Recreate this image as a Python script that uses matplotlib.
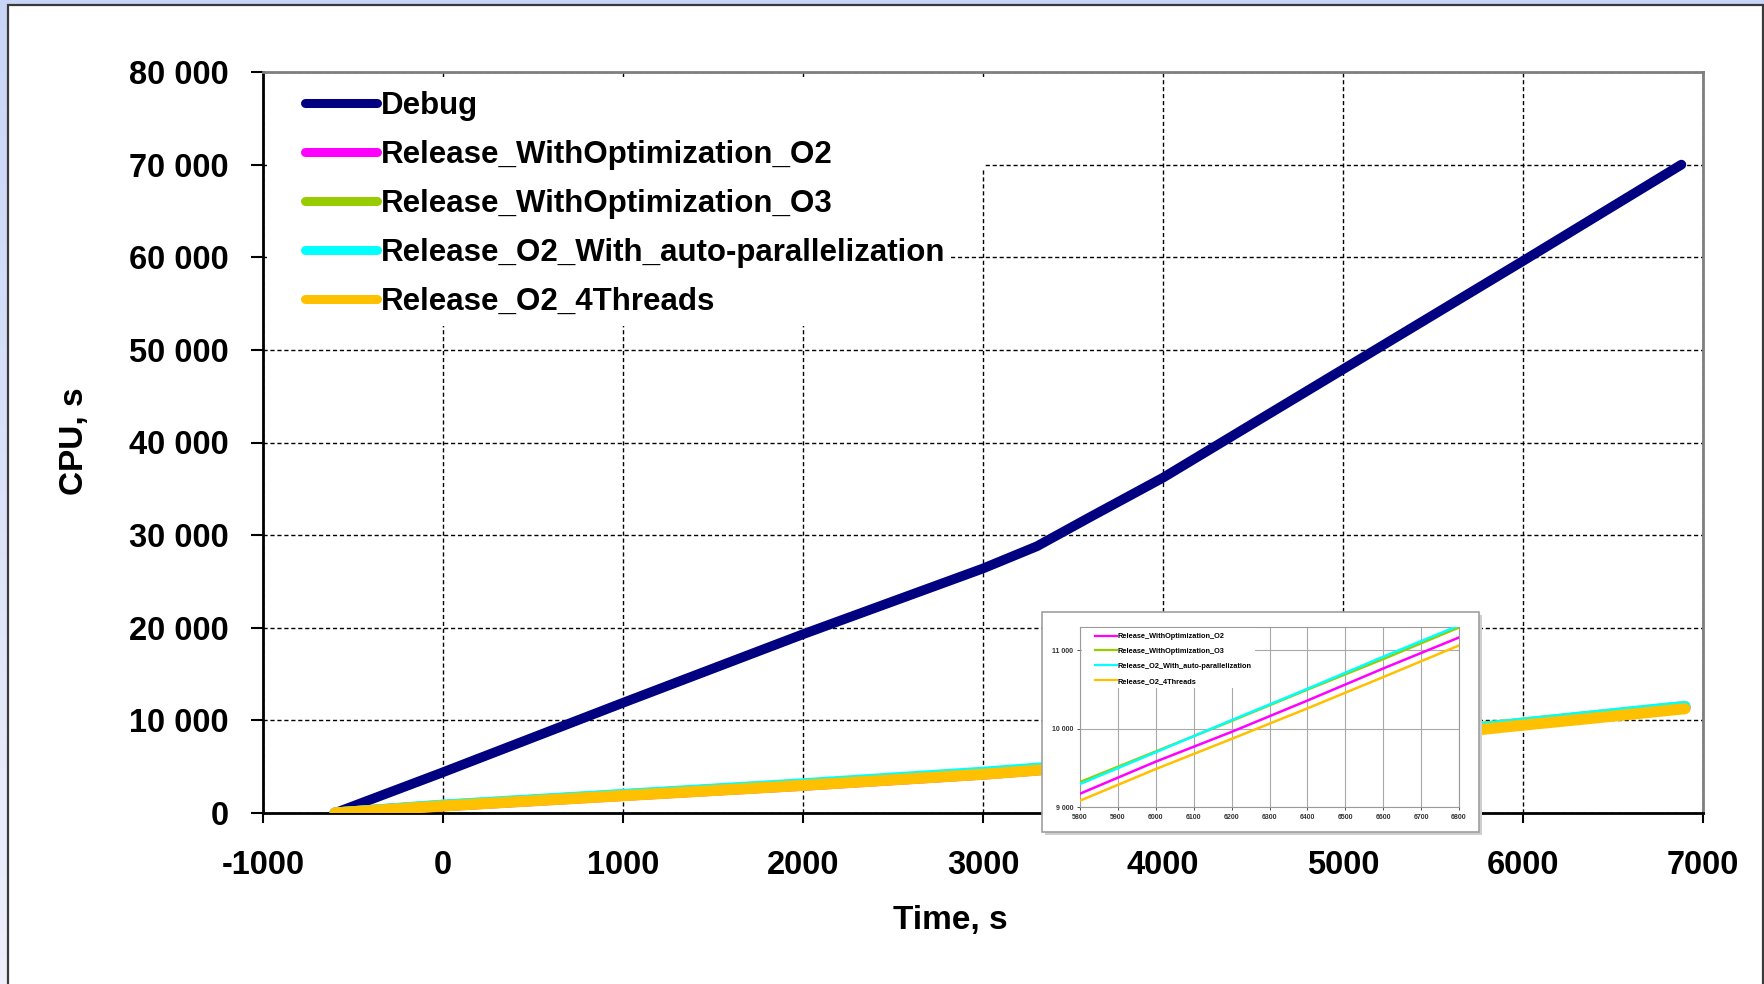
import numpy as np
import matplotlib
matplotlib.use('Agg')
import matplotlib.pyplot as plt
from matplotlib.patches import Rectangle
from matplotlib.lines import Line2D
from matplotlib.colors import LinearSegmentedColormap
from matplotlib.ticker import FuncFormatter

plt.rcParams['font.family'] = ['Liberation Sans', 'DejaVu Sans']
plt.rcParams['font.weight'] = 'bold'
plt.rcParams['axes.unicode_minus'] = False

# CPU time vs wall time for each build configuration
debug_t = [-600, 0, 1000, 2000, 3000, 3300, 3600, 4000, 5000, 6000, 6880]
debug_cpu = [0, 4400, 11900, 19300, 26400, 28800, 32000, 36200, 47900, 59600, 70000]

release_t = [-600, 0, 1000, 2000, 3000, 4000, 5000, 5800, 6000, 6200, 6400, 6600, 6800, 6900]
o2_cpu = [0, 780, 1900, 3000, 4200, 5700, 7550, 9170, 9580, 9960, 10360, 10770, 11166, 11370]
o3_cpu = [0, 820, 1950, 3080, 4300, 5800, 7680, 9319, 9710, 10100, 10500, 10890, 11294, 11490]
par_cpu = [0, 850, 2000, 3150, 4400, 5850, 7700, 9294, 9700, 10110, 10510, 10920, 11319, 11500]
thr_cpu = [0, 760, 1870, 2980, 4180, 5650, 7450, 9081, 9485, 9870, 10260, 10660, 11064, 11260]

labels = ['Debug', 'Release_WithOptimization_O2', 'Release_WithOptimization_O3',
          'Release_O2_With_auto-parallelization', 'Release_O2_4Threads']
colors = ['#000080', '#ff00ff', '#99cc00', '#00ffff', '#ffc000']

x_ticks = list(range(-1000, 7001, 1000))
y_ticks = list(range(0, 80001, 10000))
inset_x_ticks = list(range(5800, 6801, 100))
inset_y_ticks = [9000, 10000, 11000]

W, H = 1765, 984
def fx(px):
    return px / W
def fy(py):
    return 1 - py / H

space_thousands = FuncFormatter(lambda v, pos: '{:,}'.format(int(v)).replace(',', ' '))

fig = plt.figure(figsize=(W / 100, H / 100), dpi=100)

# page background with a white panel
bg = fig.add_axes([0, 0, 1, 1], zorder=-10)
bg.axis('off')
grad = np.linspace(0, 1, 256).reshape(-1, 1)
cmap = LinearSegmentedColormap.from_list('bg', ['#c9d5f7', '#eef0fb'])
bg.imshow(grad, aspect='auto', cmap=cmap, extent=[0, 1, 0, 1])
bg.set_xlim(0, 1)
bg.set_ylim(0, 1)
bg.add_patch(Rectangle((fx(8), -0.05), fx(1763) - fx(8), fy(5) + 0.05,
                       facecolor='white', edgecolor='#3a3a3a', linewidth=1.6))

ax = fig.add_axes([fx(263), fy(813), fx(1703) - fx(263), fy(72) - fy(813)])
ax.set_axisbelow(True)
ax.grid(True, color='black', linestyle=(0, (3, 2)), linewidth=1.0)

ax.plot(debug_t, debug_cpu, color=colors[0], lw=7, solid_capstyle='round', zorder=3)
for vals, c in zip([o2_cpu, o3_cpu, par_cpu, thr_cpu], colors[1:]):
    ax.plot(release_t, vals, color=c, lw=8, solid_capstyle='round', zorder=3)

ax.set_xlim(-1000, 7000)
ax.set_ylim(0, 80000)
ax.set_xticks(x_ticks)
ax.set_yticks(y_ticks)
ax.yaxis.set_major_formatter(space_thousands)
ax.tick_params(axis='both', labelsize=23.5, width=1.5, color='black', direction='out')
ax.tick_params(axis='y', length=8.5, pad=16)
ax.tick_params(axis='x', length=7.5, pad=19)
for side in ['left', 'bottom']:
    ax.spines[side].set_color('black')
    ax.spines[side].set_linewidth(2)
for side in ['top', 'right']:
    ax.spines[side].set_color('#7f7f7f')
    ax.spines[side].set_linewidth(2)

# white area behind the legend
for x0, y0, x1, y1 in [(267, 77, 985, 170), (267, 77, 951, 326)]:
    ax.add_patch(Rectangle((fx(x0), fy(y1)), fx(x1) - fx(x0), fy(y0) - fy(y1),
                           transform=fig.transFigure, facecolor='white',
                           edgecolor='none', zorder=1))

handles = [Line2D([], [], color=c, lw=6.5, solid_capstyle='round') for c in colors]
ax.legend(handles, labels, loc='upper left', bbox_to_anchor=(fx(305), fy(91)),
          bbox_transform=fig.transFigure, frameon=False, fontsize=22.5,
          handlelength=2.3, handletextpad=0.12, labelspacing=0.61,
          borderpad=0, borderaxespad=0)

fig.text(fx(950), fy(920), 'Time, s', fontsize=24, ha='center', va='center')
fig.text(fx(75), fy(441), 'CPU, s', fontsize=24, ha='center', va='center', rotation=90)

# zoomed view of the release builds
ax.add_patch(Rectangle((fx(1045), fy(835)), fx(1482) - fx(1045), fy(615) - fy(835),
                       transform=fig.transFigure, facecolor='#cfcfcf',
                       edgecolor='none', zorder=8, clip_on=False))
ax.add_patch(Rectangle((fx(1042), fy(832)), fx(1479) - fx(1042), fy(612) - fy(832),
                       transform=fig.transFigure, facecolor='white',
                       edgecolor='#a0a0a0', linewidth=1.2, zorder=9, clip_on=False))

axi = fig.add_axes([fx(1080), fy(807), fx(1459) - fx(1080), fy(627) - fy(807)])
axi.set_axisbelow(True)
axi.grid(True, color='#a8a8a8', linewidth=0.8)
for vals, c in zip([o2_cpu, o3_cpu, par_cpu, thr_cpu], colors[1:]):
    axi.plot(release_t, vals, color=c, lw=1.8, zorder=3)
axi.set_xlim(5800, 6800)
axi.set_ylim(9000, 11300)
axi.set_xticks(inset_x_ticks)
axi.set_yticks(inset_y_ticks)
axi.yaxis.set_major_formatter(space_thousands)
axi.tick_params(axis='both', labelsize=5, colors='#333333', length=2, width=0.6, pad=3)
for s in axi.spines.values():
    s.set_color('#9a9a9a')
    s.set_linewidth(0.8)
axi.add_patch(Rectangle((fx(1082), fy(688)), fx(1255) - fx(1082), fy(628) - fy(688),
                        transform=fig.transFigure, facecolor='white',
                        edgecolor='none', zorder=2.6))
inset_handles = [Line2D([], [], color=c, lw=1.6) for c in colors[1:]]
axi.legend(inset_handles, labels[1:], loc='upper left', bbox_to_anchor=(fx(1095), fy(633)),
           bbox_transform=fig.transFigure, frameon=False, fontsize=5.3,
           handlelength=3.0, handletextpad=0.1, labelspacing=1.05,
           borderpad=0, borderaxespad=0)

fig.savefig('out.png', dpi=100)
